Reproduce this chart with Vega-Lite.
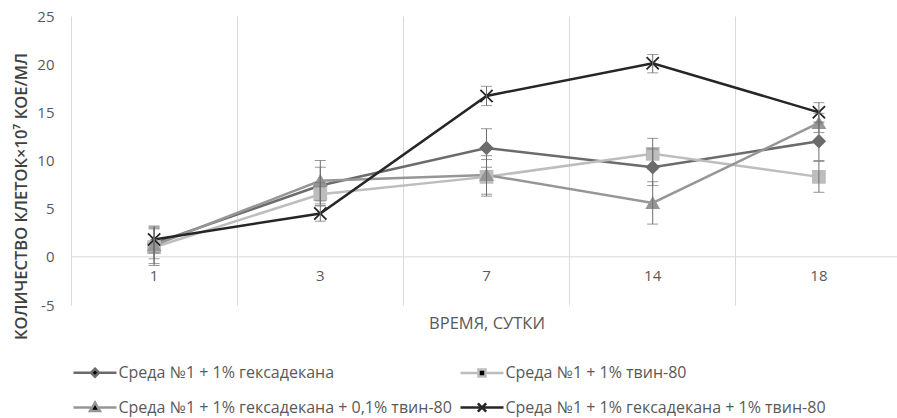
{
  "$schema": "https://vega.github.io/schema/vega-lite/v6.json",
  "width": 826,
  "height": 289,
  "autosize": {"type": "none"},
  "padding": {"left": 71, "top": 16, "right": 0, "bottom": 113},
  "background": "white",
  "config": {
    "view": {"stroke": null},
    "font": "Open Sans",
    "axis": {"labelFont": "Open Sans", "titleFont": "Open Sans"},
    "legend": {
      "labelFont": "Open Sans", "orient": "none", "legendX": 1, "legendY": 345, "columns": 2,
      "direction": "horizontal", "columnPadding": 3, "rowPadding": 14, "padding": 0,
      "symbolSize": 400, "symbolStrokeWidth": 2.5, "symbolOffset": 11.5, "labelOffset": 12,
      "symbolOpacity": 1,
      "labelFontSize": 16, "labelColor": "#595959", "labelLimit": 500
    }
  },
  "datasets": {
    "pts": [
      {"s": "Среда №1 + 1% гексадекана", "day": "1", "v": 1.4, "lo": -0.2, "hi": 3.0},
      {"s": "Среда №1 + 1% гексадекана", "day": "3", "v": 7.4, "lo": 5.5, "hi": 9.3},
      {"s": "Среда №1 + 1% гексадекана", "day": "7", "v": 11.3, "lo": 9.3, "hi": 13.3},
      {"s": "Среда №1 + 1% гексадекана", "day": "14", "v": 9.3, "lo": 7.4, "hi": 11.2},
      {"s": "Среда №1 + 1% гексадекана", "day": "18", "v": 12.0, "lo": 10.0, "hi": 14.0},
      {"s": "Среда №1 + 1% твин-80", "day": "1", "v": 1.0, "lo": -0.9, "hi": 2.9},
      {"s": "Среда №1 + 1% твин-80", "day": "3", "v": 6.5, "lo": 5.3, "hi": 7.7},
      {"s": "Среда №1 + 1% твин-80", "day": "7", "v": 8.3, "lo": 6.5, "hi": 10.1},
      {"s": "Среда №1 + 1% твин-80", "day": "14", "v": 10.7, "lo": 9.1, "hi": 12.3},
      {"s": "Среда №1 + 1% твин-80", "day": "18", "v": 8.3, "lo": 6.7, "hi": 9.9},
      {"s": "Среда №1 + 1% гексадекана + 0,1% твин-80", "day": "1", "v": 1.2, "lo": -0.7, "hi": 3.1},
      {"s": "Среда №1 + 1% гексадекана + 0,1% твин-80", "day": "3", "v": 7.9, "lo": 5.8, "hi": 10.0},
      {"s": "Среда №1 + 1% гексадекана + 0,1% твин-80", "day": "7", "v": 8.5, "lo": 6.3, "hi": 10.5},
      {"s": "Среда №1 + 1% гексадекана + 0,1% твин-80", "day": "14", "v": 5.6, "lo": 3.4, "hi": 7.8},
      {"s": "Среда №1 + 1% гексадекана + 0,1% твин-80", "day": "18", "v": 13.9, "lo": 12.9, "hi": 14.9},
      {"s": "Среда №1 + 1% гексадекана + 1% твин-80", "day": "1", "v": 1.8, "lo": 0.4, "hi": 3.2},
      {"s": "Среда №1 + 1% гексадекана + 1% твин-80", "day": "3", "v": 4.5, "lo": 3.7, "hi": 5.3},
      {"s": "Среда №1 + 1% гексадекана + 1% твин-80", "day": "7", "v": 16.7, "lo": 15.7, "hi": 17.7},
      {"s": "Среда №1 + 1% гексадекана + 1% твин-80", "day": "14", "v": 20.1, "lo": 19.1, "hi": 21.0},
      {"s": "Среда №1 + 1% гексадекана + 1% твин-80", "day": "18", "v": 15.0, "lo": 13.9, "hi": 16.0}
    ]
  },
  "layer": [
    {
      "data": {"values": [{"z": 0}]},
      "mark": {"type": "rule", "color": "#d9d9d9", "strokeWidth": 1},
      "encoding": {
        "y": {
          "field": "z", "type": "quantitative",
          "scale": {"domain": [-5, 25], "nice": false, "zero": false},
          "axis": {
            "values": [-5, 0, 5, 10, 15, 20, 25], "domain": false, "ticks": false, "grid": false,
            "labelExpr": "'' + datum.value",
            "labelFontSize": 15, "labelColor": "#595959", "labelPadding": 17,
            "title": "КОЛИЧЕСТВО КЛЕТОК×10⁷ КОЕ/МЛ", "titleFontSize": 16.5, "titleFontWeight": 600,
            "titleColor": "#404040", "titleX": -50, "titleY": 180, "titleBaseline": "middle"
          }
        }
      }
    },
    {
      "data": {"name": "pts"},
      "encoding": {
        "x": {
          "field": "day", "type": "ordinal", "sort": ["1", "3", "7", "14", "18"],
          "scale": {"type": "band", "paddingInner": 0, "paddingOuter": 0, "range": [0, 831]},
          "axis": {
            "orient": "bottom", "offset": -48, "domain": false, "ticks": false,
            "grid": true, "bandPosition": 0, "gridColor": "#d9d9d9", "gridWidth": 1,
            "labelAngle": 0, "labelFontSize": 15, "labelColor": "#595959",
            "labelPadding": 11,
            "title": "ВРЕМЯ, СУТКИ", "titleFontSize": 16.5, "titleFontWeight": "normal",
            "titleColor": "#595959", "titleY": 66, "titleBaseline": "middle"
          }
        },
        "y": {"field": "v", "type": "quantitative", "title": "КОЛИЧЕСТВО КЛЕТОК×10⁷ КОЕ/МЛ"}
      },
      "layer": [
        {
          "mark": {"type": "line", "strokeWidth": 2.5},
          "encoding": {
            "stroke": {
              "field": "s", "type": "nominal",
              "scale": {
                "domain": ["Среда №1 + 1% гексадекана", "Среда №1 + 1% твин-80", "Среда №1 + 1% гексадекана + 0,1% твин-80", "Среда №1 + 1% гексадекана + 1% твин-80"],
                "range": ["#6b6b6b", "#bdbdbd", "#969696", "#262626"]
              },
              "legend": {"title": null}
            }
          }
        },
        {
          "transform": [{"filter": {"field": "s", "equal": "Среда №1 + 1% гексадекана"}}],
          "mark": {"type": "point", "shape": "diamond", "filled": true, "size": 150, "fill": "#6b6b6b", "stroke": "#6b6b6b", "strokeWidth": 1.5, "opacity": 1}
        },
        {
          "transform": [{"filter": {"field": "s", "equal": "Среда №1 + 1% твин-80"}}],
          "mark": {"type": "point", "shape": "square", "filled": true, "size": 150, "fill": "#bdbdbd", "stroke": "#bdbdbd", "strokeWidth": 1.5, "opacity": 1}
        },
        {
          "transform": [{"filter": {"field": "s", "equal": "Среда №1 + 1% гексадекана + 0,1% твин-80"}}],
          "mark": {"type": "point", "shape": "triangle-up", "filled": true, "size": 150, "fill": "#969696", "stroke": "#969696", "strokeWidth": 1.5, "opacity": 1}
        },
        {
          "transform": [{"filter": {"field": "s", "equal": "Среда №1 + 1% гексадекана + 1% твин-80"}}],
          "mark": {"type": "point", "shape": "M-1,-1L1,1M-1,1L1,-1", "filled": true, "size": 150, "fill": "#262626", "stroke": "#262626", "strokeWidth": 1.8, "opacity": 1}
        },
        {
          "transform": [{"filter": "false"}],
          "mark": {"type": "point", "filled": true, "opacity": 1, "strokeWidth": 2.5},
          "encoding": {
            "fill": {"field": "s", "type": "nominal", "legend": {"title": null}},
            "stroke": {"field": "s", "type": "nominal", "legend": {"title": null}},
            "shape": {
              "field": "s", "type": "nominal",
              "scale": {
                "domain": ["Среда №1 + 1% гексадекана", "Среда №1 + 1% твин-80", "Среда №1 + 1% гексадекана + 0,1% твин-80", "Среда №1 + 1% гексадекана + 1% твин-80"],
                "range": [
                  "M-2.15,0H-0.4M0.4,0H2.15M0,-0.4L0.4,0L0,0.4L-0.4,0Z",
                  "M-2.15,0H-0.35M0.35,0H2.15M-0.35,-0.35H0.35V0.35H-0.35Z",
                  "M-2.15,0H-0.4M0.4,0H2.15M0,-0.5L0.5,0.35L-0.5,0.35Z",
                  "M-2.15,0H2.15M-0.42,-0.42L0.42,0.42M-0.42,0.42L0.42,-0.42"
                ]
              },
              "legend": {"title": null}
            }
          }
        },
        {
          "mark": {"type": "rule", "color": "#6e6e6e", "strokeWidth": 1},
          "encoding": {
            "y": {"field": "lo", "type": "quantitative", "title": "КОЛИЧЕСТВО КЛЕТОК×10⁷ КОЕ/МЛ"},
            "y2": {"field": "hi"}
          }
        },
        {
          "mark": {"type": "tick", "color": "#6e6e6e", "thickness": 1, "size": 11, "orient": "horizontal"},
          "encoding": {"y": {"field": "lo", "type": "quantitative", "title": "КОЛИЧЕСТВО КЛЕТОК×10⁷ КОЕ/МЛ"}}
        },
        {
          "mark": {"type": "tick", "color": "#6e6e6e", "thickness": 1, "size": 11, "orient": "horizontal"},
          "encoding": {"y": {"field": "hi", "type": "quantitative", "title": "КОЛИЧЕСТВО КЛЕТОК×10⁷ КОЕ/МЛ"}}
        }
      ]
    }
  ]
}
